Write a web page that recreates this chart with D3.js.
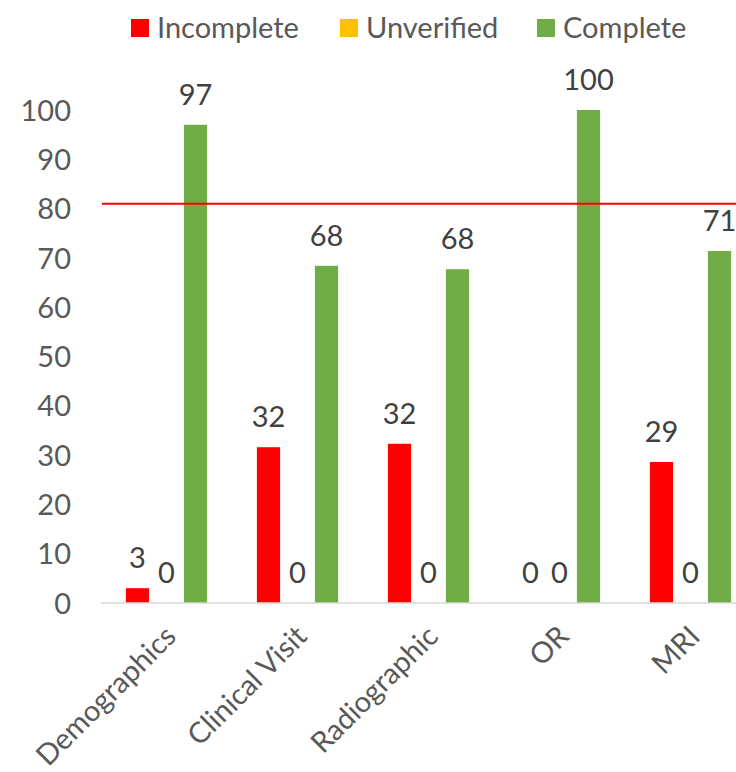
<!DOCTYPE html>
<html><head><meta charset="utf-8">
<script src="https://cdn.jsdelivr.net/npm/d3@7"></script>
<style>body{margin:0;background:#fff}svg{display:block}</style>
</head><body>
<svg id="c" width="736" height="772"></svg>
<script>
const categories = ["Demographics","Clinical Visit","Radiographic","OR","MRI"];
const seriesNames = ["Incomplete","Unverified","Complete"];
const seriesColors = ["#ff0000","#ffc000","#70ad47"];
const incomplete = [3, 31.6, 32.3, 0, 28.6];
const unverified = [0, 0, 0, 0, 0];
const complete = [97, 68.4, 67.7, 100, 71.4];
const yTicks = [0,10,20,30,40,50,60,70,80,90,100];
const targetLine = 81;

const seriesValues = [incomplete, unverified, complete];
const FONT = "Lato, 'Open Sans', sans-serif";
const svg = d3.select("#c");
const x0 = d3.scaleBand().domain(categories).range([101, 756]).paddingInner(0.336).paddingOuter(0.168);
const x1 = d3.scaleBand().domain(seriesNames).range([0, x0.bandwidth()]).paddingInner(0.2).paddingOuter(0.1);
const y = d3.scaleLinear().domain([0,100]).range([603,110]);

// y tick labels
const yAxis = d3.axisLeft(y).tickValues(yTicks).tickSize(0).tickPadding(0);
const ga = svg.append("g").attr("transform","translate(71,0)").call(yAxis);
ga.select(".domain").remove();
ga.selectAll("text").attr("font-family",FONT).attr("font-size",29).attr("fill","#595959").attr("dy","0.35em");

// bars
categories.forEach((c,ci)=>{
  const g = svg.append("g").attr("transform",`translate(${x0(c)},0)`);
  seriesNames.forEach((s,si)=>{
    const v = seriesValues[si][ci];
    g.append("rect").attr("x",x1(s)).attr("width",x1.bandwidth())
      .attr("y",y(v)).attr("height",y(0)-y(v)).attr("fill",seriesColors[si]);
    g.append("text").attr("x",x1(s)+x1.bandwidth()/2).attr("y",y(v)-20)
      .attr("text-anchor","middle").attr("font-family",FONT).attr("font-size",29)
      .attr("fill","#404040").text(d3.format(".0f")(v));
  });
});

// x axis line
svg.append("line").attr("x1",101).attr("x2",756).attr("y1",y(0)).attr("y2",y(0))
  .attr("stroke","#d9d9d9").attr("stroke-width",1.5);

// category labels
categories.forEach(c=>{
  const cx = x0(c)+x0.bandwidth()/2;
  svg.append("text").attr("transform",`translate(${cx+4},${y(0)+28}) rotate(-45)`)
    .attr("text-anchor","end").attr("dy","0.35em").attr("font-family",FONT).attr("font-size",29)
    .attr("fill","#595959").text(c);
});

// target line
svg.append("line").attr("x1",102).attr("x2",736).attr("y1",y(targetLine)).attr("y2",y(targetLine))
  .attr("stroke","#ff0000").attr("stroke-width",2);

// legend
const legendX = [131, 340, 537];
seriesNames.forEach((s,i)=>{
  svg.append("rect").attr("x",legendX[i]).attr("y",19).attr("width",18).attr("height",18).attr("fill",seriesColors[i]);
  svg.append("text").attr("x",legendX[i]+26).attr("y",28).attr("dy","0.35em")
    .attr("font-family",FONT).attr("font-size",29).attr("fill","#595959").text(s);
});
</script>
</body></html>
